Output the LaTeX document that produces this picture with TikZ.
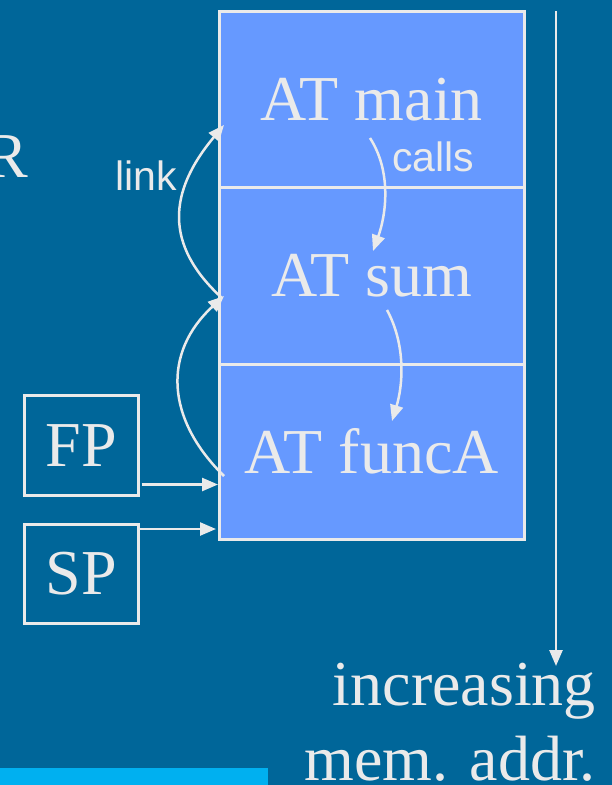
\documentclass[tikz,border=0pt]{standalone}
\usepackage{fontspec}
\setmainfont{Liberation Serif}
\newfontfamily\linkfont{Liberation Sans}
\usetikzlibrary{arrows.meta,calc}
\definecolor{bgblue}{RGB}{0,102,153}
\definecolor{frameblue}{RGB}{102,153,255}
\definecolor{linegray}{RGB}{234,234,234}
\definecolor{barcyan}{RGB}{0,176,240}
\begin{document}
\begin{tikzpicture}[x=1pt,y=-1pt,
  every node/.style={text=linegray},
  frame/.style={draw=linegray,line width=2.5pt,fill=frameblue,minimum width=305pt,inner sep=0pt,
    font=\fontsize{64}{64}\selectfont},
  reg/.style={draw=linegray,line width=2.5pt,minimum width=114pt,minimum height=100pt,inner sep=0pt,
    font=\fontsize{64}{64}\selectfont},
  big/.style={font=\fontsize{64}{64}\selectfont,inner sep=0pt},
  small/.style={font=\linkfont\fontsize{41}{41}\selectfont,inner sep=0pt},
  conn/.style={draw=linegray,line width=2.5pt,-{Triangle[length=16pt,width=13pt]}}]
\fill[bgblue] (0,0) rectangle (612,785);
\useasboundingbox (0,0) rectangle (612,785);
\fill[barcyan] (0,768) rectangle (268,785);
% stack frames
\node[frame,minimum height=176pt,anchor=north west] (main) at (218,10) {AT main};
\node[frame,minimum height=177pt,anchor=north west] (sum) at (218,186) {AT sum};
\node[frame,minimum height=175pt,anchor=north west] (funcA) at (218,363) {AT funcA};
% registers
\node[reg,anchor=north west] (FP) at (23,394) {FP};
\node[reg,minimum height=99pt,anchor=north west] (SP) at (23,523) {SP};
% labels
\node[big,anchor=base east] (R) at (28,177) {R};
\node[small,anchor=base west] (link) at (115,190) {link};
\node[small,anchor=base west] (calls) at (392,171) {calls};
\node[big,anchor=base east] (inc) at (596,705) {increasing};
\node[big,anchor=base east] (mem) at (596,780) {mem. addr.};
% calls arrows
\coordinate (c1s) at (370,138);
\coordinate (c1e) at (373,251);
\coordinate (c2s) at (387,310);
\coordinate (c2e) at (392,421);
\draw[conn] (c1s) .. controls (392,172) and (386,215) .. (c1e);
\draw[conn] (c2s) .. controls (406,345) and (403,385) .. (c2e);
% link arrows
\coordinate (l1s) at (224,476);
\coordinate (l1e) at (224,296);
\coordinate (l2s) at (222,298);
\coordinate (l2e) at (224,125);
\draw[conn] (l1s) .. controls (165,418) and (163,352) .. (l1e);
\draw[conn] (l2s) .. controls (164,245) and (168,192) .. (l2e);
% register arrows
\coordinate (fpa) at ($(FP.south east)+(2,-12)$);
\coordinate (spa) at ($(SP.north east)+(0,6)$);
\draw[conn] (fpa) -- (fpa -| funcA.west);
\draw[conn] (spa) -- ($(spa -| funcA.west)+(-2,0)$);
% address arrow
\coordinate (atop) at (556,11);
\coordinate (abot) at (556,666);
\draw[conn] (atop) -- (abot);
\end{tikzpicture}
\end{document}
